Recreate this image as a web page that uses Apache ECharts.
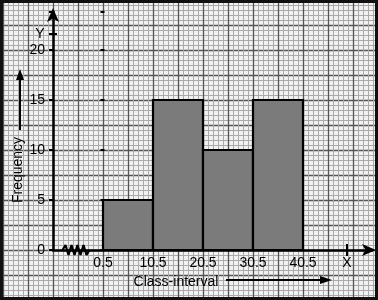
<!DOCTYPE html>
<html><head><meta charset="utf-8">
<script src="https://cdn.jsdelivr.net/npm/echarts@6/dist/echarts.min.js"></script>
<style>html,body{margin:0;padding:0;background:#fff}#c{width:378px;height:300px}</style>
</head><body><div id="c"></div>
<script>
// ---- data ----
const classStarts = [0.5, 10.5, 20.5, 30.5];
const classEnds   = [10.5, 20.5, 30.5, 40.5];
const frequencies = [5, 15, 10, 15];
const xTickLabels = ['0.5', '10.5', '20.5', '30.5', '40.5'];
const yTickLabels = ['0', '5', '10', '15', '20'];
// axis-break zigzag (data units)
const kinkX = [-7.6, -7.0, -6.4, -5.8, -5.2, -4.6, -4.0, -3.4, -2.8, -2.2];
const kinkY = [0, 0.5, -0.5, 0.5, -0.5, 0.5, -0.5, 0.5, -0.5, 0];

const histData = classStarts.map((s, i) => [s, classEnds[i], frequencies[i]]);
const kinkData = kinkX.map((x, i) => [x, kinkY[i]]);

const FONT = 'Liberation Sans, Arial, sans-serif';
const chart = echarts.init(document.getElementById('c'), null, {renderer: 'canvas'});

const option = {
  backgroundColor: '#f1f1f1',
  animation: false,
  grid: [
    {left: 3, right: 0, top: 0, bottom: 0},          // graph paper
    {left: 53, right: 6, top: 12, bottom: 50}        // data
  ],
  xAxis: [
    {gridIndex: 0, type: 'value', min: 0, max: 15, interval: 1,
     axisLine: {show: false}, axisTick: {show: false}, axisLabel: {show: false},
     splitLine: {show: true, lineStyle: {color: '#555', width: 1.3}},
     minorTick: {show: false, splitNumber: 5},
     minorSplitLine: {show: true, lineStyle: {color: '#aaa', width: 1}}},
    {gridIndex: 1, type: 'value', min: -9.5, max: 54.3, interval: 10,
     axisLine: {show: true, onZero: false, lineStyle: {color: '#000', width: 2.5},
                symbol: ['none', 'arrow'], symbolSize: [9, 14], symbolOffset: [0, 4]},
     axisTick: {show: false},
     splitLine: {show: false},
     axisLabel: {show: true, margin: 6, color: '#000', fontSize: 14, fontFamily: FONT,
       formatter: function (v) {
         const idx = xTickLabels.indexOf(v.toFixed(1));
         return idx >= 0 ? xTickLabels[idx] : '';
       }}}
  ],
  yAxis: [
    {gridIndex: 0, type: 'value', min: 0, max: 12, interval: 1,
     axisLine: {show: false}, axisTick: {show: false}, axisLabel: {show: false},
     splitLine: {show: true, lineStyle: {color: '#555', width: 1.3}},
     minorTick: {show: false, splitNumber: 5},
     minorSplitLine: {show: true, lineStyle: {color: '#aaa', width: 1}}},
    {gridIndex: 1, type: 'value', position: 'left', min: 0, max: 23.8, interval: 5,
     axisLine: {show: true, onZero: false, lineStyle: {color: '#000', width: 2.5},
                symbol: ['none', 'arrow'], symbolSize: [9, 14], symbolOffset: [0, 4]},
     axisTick: {show: true, length: 4, lineStyle: {color: '#000', width: 2}},
     splitLine: {show: false},
     axisLabel: {show: true, margin: 8, color: '#000', fontSize: 14, fontFamily: FONT,
       formatter: function (v) {
         const s = String(v);
         return yTickLabels.indexOf(s) >= 0 ? s : '';
       }}},
    {gridIndex: 1, type: 'value', position: 'left', offset: 0, min: 0, max: 23.8, interval: 5,
     axisLine: {show: false}, axisLabel: {show: false}, splitLine: {show: false},
     axisTick: {show: true, inside: true, length: 4, lineStyle: {color: '#000', width: 2}}}
  ],
  series: [
    {type: 'custom', xAxisIndex: 1, yAxisIndex: 1, data: histData,
     encode: {x: [0, 1], y: 2},
     renderItem: function (params, api) {
       const p0 = api.coord([api.value(0), api.value(2)]);
       const p1 = api.coord([api.value(1), 0]);
       return {type: 'rect',
         shape: {x: p0[0], y: p0[1], width: p1[0] - p0[0], height: p1[1] - p0[1]},
         style: {fill: '#7b7b7b', stroke: '#000', lineWidth: 2.2}};
     }, z: 3},
    {type: 'line', xAxisIndex: 1, yAxisIndex: 1, data: kinkData, clip: false,
     symbol: 'none', lineStyle: {color: '#000', width: 2.2}, z: 5}
  ],
  graphic: [
    // Y marker on the y axis
    {type: 'line', z: 50, shape: {x1: 49, y1: 34, x2: 57, y2: 34}, style: {stroke: '#000', lineWidth: 2}},
    {type: 'text', z: 50, x: 40, y: 34,
     style: {text: 'Y', font: '14px ' + FONT, fill: '#000', align: 'center', verticalAlign: 'middle'}},
    // X marker on the x axis
    {type: 'line', z: 50, shape: {x1: 347, y1: 244, x2: 347, y2: 256}, style: {stroke: '#000', lineWidth: 2}},
    {type: 'text', z: 50, x: 347, y: 263,
     style: {text: 'X', font: '14px ' + FONT, fill: '#000', align: 'center', verticalAlign: 'middle'}},
    // Frequency label + arrow
    {type: 'text', z: 50, x: 18, y: 170, rotation: Math.PI / 2,
     style: {text: 'Frequency', font: '14px ' + FONT, fill: '#000', align: 'center', verticalAlign: 'middle'}},
    {type: 'line', z: 50, shape: {x1: 20, y1: 130, x2: 20, y2: 78}, style: {stroke: '#000', lineWidth: 2}},
    {type: 'polygon', z: 50, shape: {points: [[20, 69], [16, 80], [24, 80]]}, style: {fill: '#000'}},
    // Class-interval label + arrow
    {type: 'text', z: 50, x: 176, y: 282,
     style: {text: 'Class-interval', font: '14px ' + FONT, fill: '#000', align: 'center', verticalAlign: 'middle'}},
    {type: 'line', z: 50, shape: {x1: 226, y1: 280, x2: 322, y2: 280}, style: {stroke: '#000', lineWidth: 2}},
    {type: 'polygon', z: 50, shape: {points: [[332, 280], [320, 276], [320, 284]]}, style: {fill: '#000'}},
    // frame
    {type: 'rect', z: 100, shape: {x: 0, y: 0, width: 378, height: 300},
     style: {fill: 'none', stroke: '#111', lineWidth: 6}}
  ]
};
chart.setOption(option);
</script>
</body></html>
